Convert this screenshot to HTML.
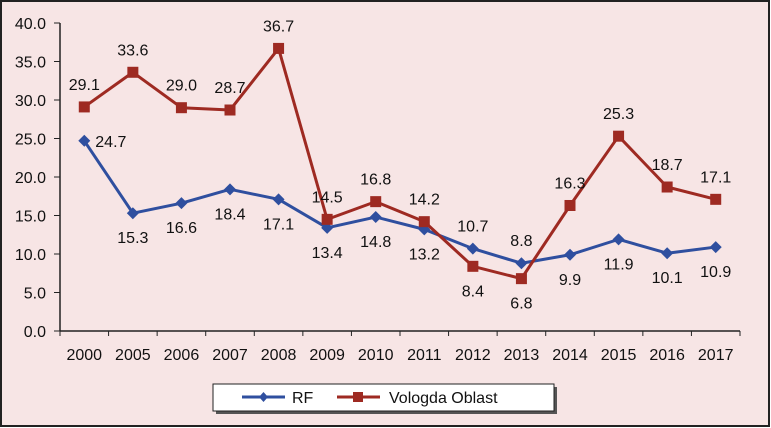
<!DOCTYPE html>
<html><head><meta charset="utf-8">
<style>
html,body{margin:0;padding:0;background:#fff}
svg{display:block;font-family:"Liberation Sans",sans-serif}
</style></head><body>
<svg id="c" width="771" height="428" viewBox="0 0 771 428">
<rect x="1" y="1" width="768" height="425" fill="#f7e5e5" stroke="#222" stroke-width="2"/>
<g id="axes"></g>
<g id="series"></g>
<g>
<rect x="216" y="387" width="341" height="27" fill="#555"/>
<rect x="213" y="384" width="341" height="27" fill="#fff" stroke="#222" stroke-width="1"/>
<line x1="242" y1="397" x2="285" y2="397" stroke="#2f4f9f" stroke-width="3"/>
<path d="M263.5 392 L268 397 L263.5 402 L259 397Z" fill="#2f4f9f"/>
<text x="292" y="403" font-size="16" fill="#111">RF</text>
<line x1="337" y1="397" x2="380" y2="397" stroke="#9e2a22" stroke-width="3"/>
<rect x="353" y="392" width="10" height="10" fill="#9e2a22"/>
<text x="389" y="403" font-size="16" fill="#111">Vologda Oblast</text>
</g>
</svg>
<script>
const categories=["2000","2005","2006","2007","2008","2009","2010","2011","2012","2013","2014","2015","2016","2017"];
const rf=[24.7,15.3,16.6,18.4,17.1,13.4,14.8,13.2,10.7,8.8,9.9,11.9,10.1,10.9];
const vologda=[29.1,33.6,29.0,28.7,36.7,14.5,16.8,14.2,8.4,6.8,16.3,25.3,18.7,17.1];
const yTicks=[0,5,10,15,20,25,30,35,40];
const rfPos=["right","below","below","below","below","below","below","below","above","above","below","below","below","below"];
const voPos=["above","above","above","above","above","above","above","above","below","below","above","above","above","above"];
const NS="http://www.w3.org/2000/svg";
const x0=60,x1=740,yB=331,yT=23;
const bw=(x1-x0)/categories.length;
const xs=i=>x0+bw*(i+0.5);
const ys=v=>yB-(v/40)*(yB-yT);
function mk(t,a,p){const e=document.createElementNS(NS,t);for(const k in a)e.setAttribute(k,a[k]);p.appendChild(e);return e;}
const ax=document.getElementById('axes');
let yl=mk('line',{x1:x0,y1:yT,x2:x0,y2:yB,stroke:'#222','stroke-width':1.5},ax);


let xl=mk('line',{x1:x0,y1:yB,x2:x1,y2:yB,stroke:'#222','stroke-width':1.5},ax);


yTicks.forEach(v=>{
 const y=ys(v);
 const t=mk('line',{x1:x0-6,y1:y,x2:x0,y2:y,stroke:'#222'},ax);
 
 
 const l=mk('text',{x:46,y:y+6,'font-size':16,'text-anchor':'end',fill:'#111'},ax);
 l.textContent=v.toFixed(1);
 
 
});
for(let i=0;i<=categories.length;i++){
 const x=x0+bw*i;
 const t=mk('line',{x1:x,y1:yB,x2:x,y2:yB+5,stroke:'#222'},ax);
 
 
}
categories.forEach((c,i)=>{
 const l=mk('text',{x:xs(i),y:yB+29,'font-size':16,'text-anchor':'middle',fill:'#111'},ax);
 l.textContent=c;
 
 
});
const sg=document.getElementById('series');
function series(vals,pos,color,name,square){
 const pl=mk('polyline',{points:vals.map((v,i)=>xs(i)+','+ys(v)).join(' '),fill:'none',stroke:color,'stroke-width':3,'stroke-linejoin':'round'},sg);
 
 
 vals.forEach((v,i)=>{
  const x=xs(i),y=ys(v);
  let m;
  if(square)m=mk('rect',{x:x-5.5,y:y-5.5,width:11,height:11,fill:color},sg);
  else m=mk('path',{d:`M${x} ${y-6}L${x+6} ${y}L${x} ${y+6}L${x-6} ${y}Z`,fill:color},sg);
  
  
  let lx=x,ly=y,anc='middle';
  if(pos[i]==='above')ly=y-17;else if(pos[i]==='below')ly=y+30;else{lx=x+11;ly=y+6;anc='start';}
  const t=mk('text',{x:lx,y:ly,'font-size':16,'text-anchor':anc,fill:'#111'},sg);
  t.textContent=v.toFixed(1);
  
  
 });
}
series(rf,rfPos,'#2f4f9f','rf',false);
series(vologda,voPos,'#9e2a22','vologda',true);
</script>
</body></html>
